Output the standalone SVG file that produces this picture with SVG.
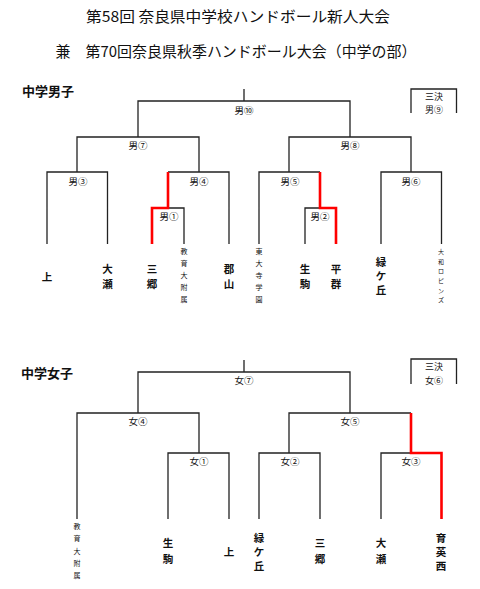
<svg xmlns="http://www.w3.org/2000/svg" width="480" height="589" viewBox="0 0 480 589">
<style>
text{font-family:"Noto Sans CJK JP","Noto Sans CJK SC",sans-serif;fill:#111;text-anchor:middle;dominant-baseline:central}
.title{font-size:15px}
.head{font-size:13px;font-weight:bold;text-anchor:start}
.lbl{font-size:9.5px}
.box{font-size:9px}
.team{font-size:10.5px;font-weight:bold}
.small{font-size:7px}
.tiny{font-size:6px}
.ln{fill:none;stroke:#222;stroke-width:1.3}
.win{fill:none;stroke:#ff0000;stroke-width:2.6}
</style>
<rect width="480" height="589" fill="#fff"/>
<g id="titles">
<text class="title" x="238" y="15" textLength="304" lengthAdjust="spacingAndGlyphs">第58回 奈良県中学校ハンドボール新人大会</text>
<text class="title" x="236" y="50" textLength="361" lengthAdjust="spacingAndGlyphs">兼　第70回奈良県秋季ハンドボール大会（中学の部）</text>
<text class="head" x="22" y="90.5">中学男子</text>
<text class="head" x="21" y="372">中学女子</text>
</g>
<g id="connectors">
<path class="ln" d="M138,137V101H350V137M244,89V101M77,172V137H199V172M47,244V172H107.5V244M168,172H229V244M168,208H184V244M289,172V137H411V172M259,244V172H320M305,244V208H320M381,244V172H441.5V244M411,113V89H456.5V113"/>
<path class="win" d="M168,172V208H152V244M320,172V208H336V244"/>
<path class="ln" d="M138,413V372H350V413M244,360V372M77,519V413H199V453M168,519V453H229V519M289,453V413H411M259,519V453H320V519M381,519V453H411M411,384V359H456.5V384"/>
<path class="win" d="M411,413V453H441.5V519"/>
</g>
<g id="boys-matches">
<g id="b10"><text class="lbl" x="244" y="110">男⑩</text></g>
<g id="b7"><text class="lbl" x="138" y="145">男⑦</text></g>
<g id="b8"><text class="lbl" x="350" y="145">男⑧</text></g>
<g id="b3"><text class="lbl" x="78" y="181">男③</text></g>
<g id="b4"><text class="lbl" x="199" y="181">男④</text></g>
<g id="b5"><text class="lbl" x="290" y="181">男⑤</text></g>
<g id="b6"><text class="lbl" x="411" y="181">男⑥</text></g>
<g id="b1"><text class="lbl" x="169" y="216">男①</text></g>
<g id="b2"><text class="lbl" x="320" y="216">男②</text></g>
<g id="b9"><text class="box" x="434" y="96.5">三決</text><text class="box" x="434" y="109.5">男⑨</text></g>
</g>
<g id="boys-teams">
<g id="bt1"><text class="team" x="47" y="276">上</text></g>
<g id="bt2"><text class="team"><tspan x="107.5" y="268">大</tspan><tspan x="107.5" y="282.5">瀬</tspan></text></g>
<g id="bt3"><text class="team"><tspan x="152" y="268">三</tspan><tspan x="152" y="282.5">郷</tspan></text></g>
<g id="bt4"><text class="small"><tspan x="184" y="251">教</tspan><tspan x="184" y="263">育</tspan><tspan x="184" y="275">大</tspan><tspan x="184" y="287">附</tspan><tspan x="184" y="298.5">属</tspan></text></g>
<g id="bt5"><text class="team"><tspan x="229" y="268">郡</tspan><tspan x="229" y="282.5">山</tspan></text></g>
<g id="bt6"><text class="small"><tspan x="259" y="251">東</tspan><tspan x="259" y="263">大</tspan><tspan x="259" y="275">寺</tspan><tspan x="259" y="287">学</tspan><tspan x="259" y="298.5">園</tspan></text></g>
<g id="bt7"><text class="team"><tspan x="305" y="268">生</tspan><tspan x="305" y="282.5">駒</tspan></text></g>
<g id="bt8"><text class="team"><tspan x="336" y="268">平</tspan><tspan x="336" y="282.5">群</tspan></text></g>
<g id="bt9"><text class="team"><tspan x="381" y="260.5">緑</tspan><tspan x="381" y="274.5">ケ</tspan><tspan x="381" y="288.5">丘</tspan></text></g>
<g id="bt10"><text class="tiny"><tspan x="441" y="251">大</tspan><tspan x="441" y="260.5">和</tspan><tspan x="441" y="270">ロ</tspan><tspan x="441" y="280">ピ</tspan><tspan x="441" y="289.5">ン</tspan><tspan x="441" y="299">ズ</tspan></text></g>
</g>
<g id="girls-matches">
<g id="g7"><text class="lbl" x="244" y="380">女⑦</text></g>
<g id="g4"><text class="lbl" x="138" y="421">女④</text></g>
<g id="g5"><text class="lbl" x="350" y="421">女⑤</text></g>
<g id="g1"><text class="lbl" x="199" y="461">女①</text></g>
<g id="g2"><text class="lbl" x="290" y="461">女②</text></g>
<g id="g3"><text class="lbl" x="411" y="461">女③</text></g>
<g id="g6"><text class="box" x="434" y="366">三決</text><text class="box" x="434" y="380">女⑥</text></g>
</g>
<g id="girls-teams">
<g id="gt1"><text class="small"><tspan x="77" y="526">教</tspan><tspan x="77" y="538">育</tspan><tspan x="77" y="550.5">大</tspan><tspan x="77" y="563">附</tspan><tspan x="77" y="575">属</tspan></text></g>
<g id="gt2"><text class="team"><tspan x="168" y="542">生</tspan><tspan x="168" y="557.5">駒</tspan></text></g>
<g id="gt3"><text class="team" x="229" y="551">上</text></g>
<g id="gt4"><text class="team"><tspan x="259" y="537">緑</tspan><tspan x="259" y="551">ケ</tspan><tspan x="259" y="565">丘</tspan></text></g>
<g id="gt5"><text class="team"><tspan x="320" y="542">三</tspan><tspan x="320" y="557.5">郷</tspan></text></g>
<g id="gt6"><text class="team"><tspan x="381" y="542">大</tspan><tspan x="381" y="557.5">瀬</tspan></text></g>
<g id="gt7"><text class="team"><tspan x="441" y="537">育</tspan><tspan x="441" y="551">英</tspan><tspan x="441" y="565">西</tspan></text></g>
</g>
</svg>
